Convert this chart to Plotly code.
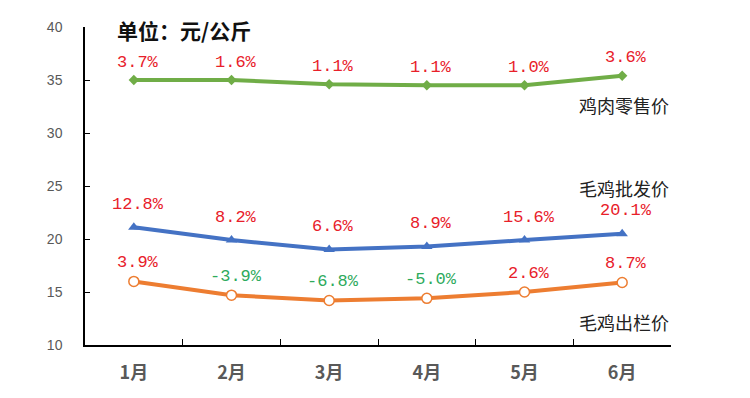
import plotly.graph_objects as go

months = ["1月", "2月", "3月", "4月", "5月", "6月"]
retail = [35.0, 35.0, 34.6, 34.5, 34.5, 35.4]
retail_pct = [3.7, 1.6, 1.1, 1.1, 1.0, 3.6]
wholesale = [21.1, 19.9, 19.0, 19.3, 19.9, 20.5]
wholesale_pct = [12.8, 8.2, 6.6, 8.9, 15.6, 20.1]
farm = [16.0, 14.7, 14.2, 14.4, 15.0, 15.9]
farm_pct = [3.9, -3.9, -6.8, -5.0, 2.6, 8.7]

series_names = ["鸡肉零售价", "毛鸡批发价", "毛鸡出栏价"]
series_label_y = [32.6, 24.8, 12.2]
unit_text = "单位：元/公斤"

GREEN = "#70AD47"
BLUE = "#4472C4"
ORANGE = "#ED7D31"
RED = "#E8202A"
POSGREEN = "#2EAA5C"

fig = go.Figure()
fig.add_trace(go.Scatter(x=months, y=retail, mode="lines+markers",
                         line=dict(color=GREEN, width=4),
                         marker=dict(symbol="diamond", size=8, color=GREEN)))
fig.add_trace(go.Scatter(x=months, y=wholesale, mode="lines+markers",
                         line=dict(color=BLUE, width=4),
                         marker=dict(symbol="triangle-up", size=10, color=BLUE)))
fig.add_trace(go.Scatter(x=months, y=farm, mode="lines+markers",
                         line=dict(color=ORANGE, width=4),
                         marker=dict(symbol="circle", size=10, color="white",
                                     line=dict(color=ORANGE, width=1.5))))

annotations = []
label_font = "Liberation Mono"
for vals, pcts, shift in [(retail, retail_pct, 18), (wholesale, wholesale_pct, 23), (farm, farm_pct, 19)]:
    for m, v, p in zip(months, vals, pcts):
        annotations.append(dict(x=m, y=v, text=f"{p:.1f}%", showarrow=False,
                                yshift=shift, xshift=4, xanchor="center", yanchor="middle",
                                font=dict(family=label_font, size=17,
                                          color=RED if p >= 0 else POSGREEN)))

for name, yv in zip(series_names, series_label_y):
    annotations.append(dict(x=months[-1], y=yv, text=name, showarrow=False,
                            xanchor="center", yanchor="middle", xshift=2,
                            font=dict(family="Noto Sans CJK SC", size=18, color="#222222")))

annotations.append(dict(xref="paper", yref="paper", x=(115 - 85) / 586, y=0.99,
                        text=f"<b>{unit_text}</b>", showarrow=False,
                        xanchor="left", yanchor="middle",
                        font=dict(family="Noto Sans CJK SC", size=21, color="#111111")))

fig.update_layout(
    width=750, height=398,
    margin=dict(l=77, r=87, t=19, b=61),
    paper_bgcolor="white", plot_bgcolor="white",
    showlegend=False,
    annotations=annotations,
    xaxis=dict(type="category", range=[-0.5, 5.5], showline=True, linecolor="black",
               linewidth=1.5, ticks="inside", tickson="boundaries", ticklen=6,
               tickcolor="black", showgrid=False, zeroline=False,
               tickfont=dict(family="Noto Sans CJK SC", size=18, color="#595959"),
               ticklabelstandoff=11),
    yaxis=dict(range=[10, 40], dtick=5, showline=True, linecolor="black", linewidth=1.5,
               ticks="inside", ticklen=5, tickcolor="black", showgrid=False, zeroline=False,
               tickfont=dict(family="Liberation Sans", size=14, color="#595959"),
               ticklabelstandoff=18),
)
fig.update_xaxes(tickvals=months, ticktext=[f"<b>{m}</b>" for m in months])

fig.write_html("out.html")
